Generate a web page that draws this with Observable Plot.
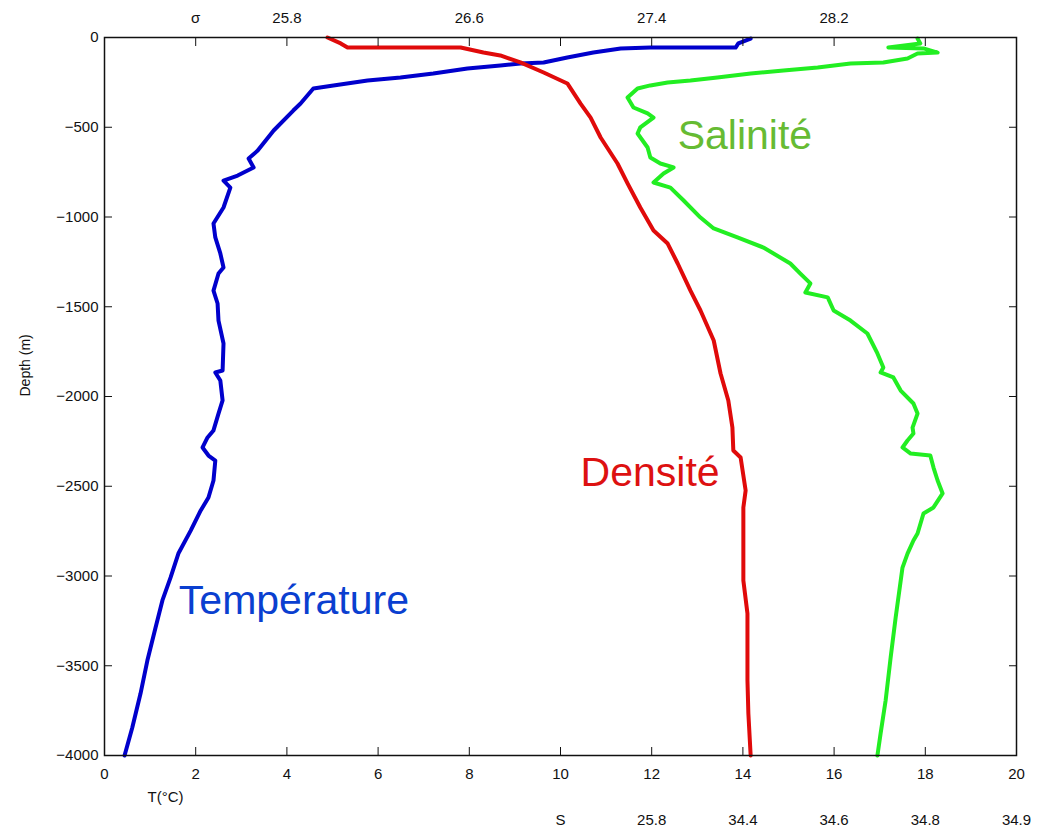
<!DOCTYPE html>
<html>
<head>
<meta charset="utf-8">
<script src="https://cdn.jsdelivr.net/npm/d3@7"></script>
<script src="https://cdn.jsdelivr.net/npm/@observablehq/plot@0.6"></script>
<style>
  html, body { margin: 0; padding: 0; background: #fff; }
  #chart svg { display: block; }
</style>
</head>
<body>
<div id="chart"></div>
<script>
// ---- Data (x in the shared bottom-axis units 0–20, depth in m) ----
const tempX = [14.17,13.90,13.84,11.97,11.32,10.72,10.15,9.63,9.12,8.68,7.96,7.21,6.49,5.77,5.02,4.58,4.30,4.14,3.71,3.36,3.16,3.27,2.92,2.61,2.76,2.61,2.39,2.43,2.54,2.61,2.50,2.39,2.48,2.50,2.61,2.59,2.43,2.54,2.59,2.50,2.39,2.26,2.15,2.28,2.43,2.39,2.28,2.11,1.89,1.62,1.45,1.27,1.12,0.94,0.79,0.61,0.44];
const tempDepth = [-6,-33,-56,-56,-61,-84,-111,-139,-145,-156,-173,-201,-223,-240,-267,-284,-368,-407,-518,-630,-674,-724,-769,-797,-836,-947,-1036,-1114,-1203,-1281,-1315,-1410,-1482,-1577,-1705,-1855,-1866,-1911,-2022,-2095,-2189,-2228,-2284,-2329,-2357,-2468,-2563,-2635,-2747,-2875,-3008,-3136,-3287,-3471,-3655,-3844,-4000];

const densX = [4.89,5.18,5.33,7.81,8.31,8.68,9.12,9.63,10.15,10.44,10.66,10.88,11.25,11.47,11.75,12.04,12.35,12.57,12.85,13.07,13.36,13.51,13.68,13.77,13.79,13.95,14.06,14.01,14.01,14.10,14.10,14.12,14.17];
const densDepth = [0,-33,-56,-56,-84,-100,-139,-195,-256,-368,-446,-557,-702,-813,-947,-1075,-1148,-1259,-1410,-1521,-1688,-1872,-2022,-2173,-2301,-2340,-2524,-2618,-3025,-3209,-3582,-3766,-4000];

const salX = [17.83,17.89,17.19,17.96,18.27,17.83,17.61,17.08,16.36,15.64,14.89,14.17,13.44,12.85,12.35,11.97,11.69,11.47,11.60,11.91,12.04,11.75,11.69,11.91,11.97,12.19,12.48,12.26,12.04,12.41,12.70,13.07,13.36,13.88,14.45,15.04,15.26,15.48,15.37,15.86,15.99,16.36,16.73,16.95,17.08,17.02,17.30,17.46,17.74,17.83,17.72,17.74,17.61,17.50,17.68,18.11,18.18,18.27,18.38,18.18,17.96,17.83,17.74,17.61,17.50,17.35,17.24,17.13,17.02,16.95];
const salDepth = [-6,-33,-56,-61,-84,-89,-117,-139,-145,-167,-184,-201,-223,-240,-251,-267,-284,-334,-390,-423,-446,-501,-535,-613,-669,-702,-724,-758,-808,-836,-908,-1003,-1064,-1114,-1170,-1259,-1315,-1370,-1421,-1448,-1521,-1577,-1649,-1760,-1838,-1866,-1894,-1967,-2039,-2095,-2173,-2206,-2245,-2284,-2318,-2329,-2396,-2468,-2540,-2618,-2652,-2763,-2802,-2875,-2953,-3231,-3454,-3694,-3877,-4000];

// ---- Axis ticks / labels ----
const xTicks = [0,2,4,6,8,10,12,14,16,18,20];
const yTicks = [0,-500,-1000,-1500,-2000,-2500,-3000,-3500,-4000];
const sigmaPos = [2,4,8,12,16];
const sigmaLabels = ["σ","25.8","26.6","27.4","28.2"];
const salPos = [10,12,14,16,18,20];
const salLabels = ["S","25.8","34.4","34.6","34.8","34.9"];

// ---- Annotations ----
const annNames = ["Salinité","Densité","Température"];
const annX = [12.57,10.44,1.63];
const annY = [-546,-2424,-3140];
const annColors = ["#66bb33","#dd1111","#0a3fd0"];

const rows = (xs, ys) => xs.map((x, i) => ({x, y: ys[i]}));
const ann = annNames.map((t, i) => ({t, x: annX[i], y: annY[i], c: annColors[i]}));

const font = "Liberation Sans, Arial, Helvetica, sans-serif";

const chart = Plot.plot({
  width: 1039,
  height: 832,
  marginLeft: 104,
  marginRight: 23,
  marginTop: 37,
  marginBottom: 77,
  style: {fontFamily: font, fontSize: "15px", color: "#111", background: "#fff"},
  x: {domain: [0, 20]},
  y: {domain: [-4000, 0]},
  marks: [
    Plot.line(rows(tempX, tempDepth), {x: "x", y: "y", stroke: "#0000cc", strokeWidth: 4, strokeLinejoin: "round"}),
    Plot.line(rows(densX, densDepth), {x: "x", y: "y", stroke: "#e00a0a", strokeWidth: 4, strokeLinejoin: "round"}),
    Plot.line(rows(salX, salDepth), {x: "x", y: "y", stroke: "#22ee22", strokeWidth: 4, strokeLinejoin: "round"}),
    Plot.frame({stroke: "#111", strokeWidth: 1.5}),
    Plot.axisX(xTicks, {anchor: "bottom", tickSize: -8, tickPadding: 21, tickFormat: d => String(d), label: null, fontSize: 15}),
    Plot.axisX(xTicks, {anchor: "top", tickSize: -8, tickFormat: () => "", label: null}),
    Plot.axisY(yTicks, {anchor: "left", tickSize: -8, tickPadding: 14, tickFormat: d => d === 0 ? "0" : "\u2212" + Math.abs(d), label: null, fontSize: 15}),
    Plot.axisY(yTicks, {anchor: "right", tickSize: -8, tickFormat: () => "", label: null}),
    Plot.text(sigmaLabels, {x: (d, i) => sigmaPos[i], text: d => d, frameAnchor: "top", dy: -25, fontSize: 15}),
    Plot.text(salLabels, {x: (d, i) => salPos[i], text: d => d, frameAnchor: "bottom", dy: 69, fontSize: 15}),
    Plot.text(["T(°C)"], {frameAnchor: "bottom-left", dx: 43, dy: 46, fontSize: 15}),
    Plot.text(["Depth (m)"], {frameAnchor: "left", dx: -79, rotate: -90, fontSize: 14}),
    Plot.text(ann, {x: "x", y: "y", text: "t", fill: "c", textAnchor: "start", fontSize: 41})
  ]
});
document.getElementById("chart").append(chart);
</script>
</body>
</html>
